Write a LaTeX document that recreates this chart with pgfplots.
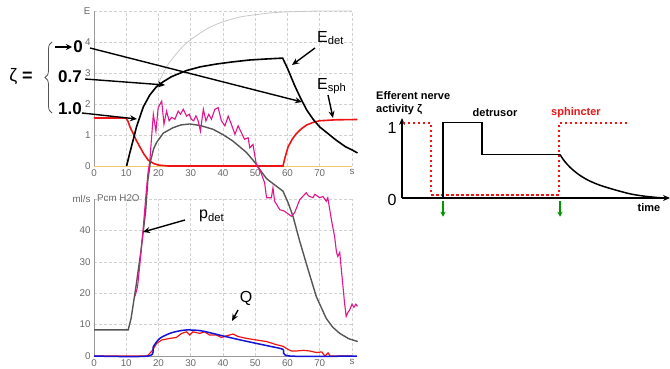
\documentclass[border=0pt]{standalone}
\usepackage{pgfplots}
\pgfplotsset{compat=1.18}
\usepackage{fontspec}
\setmainfont{Liberation Sans}
\usetikzlibrary{arrows.meta,decorations.pathreplacing}
\definecolor{mag}{RGB}{228,20,140}
\definecolor{rd}{RGB}{238,20,20}
\definecolor{bl}{RGB}{20,20,215}
\definecolor{dg}{RGB}{85,85,85}
\definecolor{lg}{RGB}{200,200,200}
\definecolor{org}{RGB}{240,200,110}
\definecolor{tk}{RGB}{105,105,105}
\definecolor{gr}{RGB}{0,150,0}
\pgfplotsset{
  panel/.style={scale only axis, width=258pt, xmin=0, xmax=80, axis lines=left,
    axis line style={-, draw=gray!80, line width=0.8pt},
    major tick length=0pt, grid=major, grid style={densely dashed, gray!35, line width=0.5pt},
    tick label style={font=\fontsize{9.8}{11}\selectfont, text=tk},
    /pgf/number format/assume math mode=true,
    xtick={0,10,...,80}, xticklabels={0,10,20,30,40,50,60,70,s},
    clip=false},
}
\begin{document}
\begin{tikzpicture}[x=1pt,y=1pt]
\useasboundingbox (0,0) rectangle (670,368);
% ---------------- top panel ----------------
\begin{axis}[panel, at={(94pt,202pt)}, anchor=south west, height=155pt, ymin=0, ymax=5,
  ytick={0,...,5}, yticklabels={0,1,2,3,4,E}]
\addplot[org, line width=0.8pt] coordinates {(0,0)(80,0)};
\addplot[lg, line width=0.8pt, smooth] coordinates {(17.3,2.3)(19.9,2.67)(22.5,3.2)(25.6,3.63)(29,4.0)(32.8,4.28)(36,4.48)(40,4.65)(45,4.8)(49.3,4.87)(55,4.94)(59.7,4.97)(70,5.0)(80,5.0)};
\addplot[rd, line width=1.6pt] coordinates {(0,1.55)(9.9,1.55)(10.5,1.45)(11.2,1.25)(12.1,1.06)(13,0.85)(14.2,0.62)(15.5,0.38)(16.8,0.19)(18.5,0.08)(20,0.03)(23,0)(58.6,0)(59.3,0.3)(60.2,0.62)(61.5,0.87)(62.8,1.05)(64.3,1.2)(65.9,1.32)(68,1.41)(70,1.46)(75,1.49)(81.7,1.5)};
\addplot[black, line width=1.6pt] coordinates {(10.1,0)(11.1,0.42)(13.2,1.27)(15.3,1.91)(17.3,2.29)(19.4,2.56)(21.5,2.72)(24,2.88)(28.7,3.08)(33,3.2)(38,3.29)(43.1,3.36)(48.3,3.42)(53,3.45)(58.5,3.48)(60,3.15)(62.2,2.6)(64,2.2)(66,1.8)(68,1.5)(70,1.26)(72.5,1.05)(75,0.84)(78,0.62)(80,0.52)(81.7,0.42)};
\end{axis}
% ---------------- bottom panel ----------------
\begin{axis}[panel, at={(94pt,12pt)}, anchor=south west, height=157pt, ymin=0, ymax=50,
  ytick={0,10,...,50}, yticklabels={0,10,20,30,40,ml/s}]
\addplot[dg, line width=1.4pt] coordinates {(0,8.3)(10.6,8.3)(11.5,12)(13,22)(14.5,33)(16,46)(16.7,56)(17.5,62)(18.5,66)(19.4,68)(21.5,71)(24.5,72.7)(27,73.6)(29.7,73.9)(33,73.4)(36.9,72.2)(40,70.5)(43,68.5)(45,66.8)(47.3,64.8)(50.4,61)(51.4,59.4)(53.5,56.5)(56,54.5)(58.6,52.5)(60.2,48.8)(61.7,44.5)(63.8,36.5)(66.4,27.5)(68.9,19)(72,12)(74,9.2)(76.2,7.2)(79,5.5)(81.8,4.6)};
\addplot[mag, line width=1.1pt] coordinates {(12.7,19)(13.5,22)(14.3,30)(15.2,40)(16,50)(16.7,58)(17.3,62.1)(18.4,77)(19.2,71.6)(19.9,79.1)(21,81.2)(21.7,73.8)(22.5,78)(23.3,74.9)(24.1,76)(25.1,75.4)(26.1,78)(26.8,77)(27.7,78.6)(28.7,76.4)(29.5,77)(30.2,75.4)(30.9,74.9)(31.6,76.5)(32.3,74.9)(33,71.6)(33.9,78.6)(34.7,74.9)(35.6,77)(36.4,75.4)(37.5,78.6)(38.5,79.1)(39.5,74.9)(40.6,73.3)(41.6,76.4)(42.6,73.8)(43.7,70.6)(44.7,73.3)(45.7,71.1)(46.7,69)(47.8,69.5)(48.3,66.3)(49.3,67.4)(49.8,64.2)(50.4,60.7)(51.4,59.4)(52.9,55.2)(53.5,50.4)(55,50.4)(55.5,53.6)(56,49.3)(57.6,46.6)(59.1,46.1)(61.2,44.5)(62.2,45.6)(63.8,49.8)(65.8,52)(66.5,51)(67.9,50.4)(68.5,51.5)(70,50.4)(71,50.8)(72,49.3)(72.5,50.4)(73.6,43.5)(74.6,38.1)(75.2,33)(75.6,31.7)(76.2,33)(76.7,27.5)(77.7,16.8)(78.2,12.6)(78.8,14)(79.3,14.7)(80,16.5)(80.6,15.5)(81.2,16.5)(81.7,15.8)};
\addplot[rd, line width=1.2pt] coordinates {(0,0)(16.5,0)(18,1.6)(19.4,4)(21,5.1)(23.5,5.6)(25.5,5.9)(27.2,7.2)(28.7,7.7)(29.7,6.7)(30.7,7.7)(32.8,7.2)(34.3,7.7)(35.8,6.7)(37.9,6.7)(39.5,5.9)(41,6.4)(43.1,7)(44.7,6.2)(47.3,5.6)(50.4,5.1)(53.5,4.6)(56.6,3.6)(58.6,3.1)(60.2,2.1)(61.2,1.6)(62.8,1.6)(64.9,1.8)(66.9,1.6)(69,1.1)(70.6,1.3)(71.6,0)(72.6,1)(73.2,0)(80,0)};
\addplot[bl, line width=1.5pt, smooth] coordinates {(0,0)(16.8,0)(18.4,3)(20.4,5.6)(23.5,7.2)(26,7.9)(28.7,8.3)(32.8,8.1)(36,7.4)(40,6.4)(45,5.2)(50.4,4)(55,3)(58.6,2.1)(60.7,0)(81.5,0)};
\node[anchor=west, font=\fontsize{9.8}{11}\selectfont, text=tk, inner sep=1pt] at (axis cs:0.6,50.3) {Pcm H2O};
\end{axis}
% ---------------- schematic ----------------
\begin{axis}[at={(402pt,170pt)}, anchor=south west, scale only axis, width=268pt, height=80pt,
  xmin=0, xmax=268, ymin=0, ymax=1.067, axis lines=left,
  axis line style={-{Stealth[length=7pt,width=6pt]}, line width=1.3pt, black},
  xtick=\empty, ytick=\empty, clip=false]
\addplot[rd, line width=2.2pt, dash pattern=on 2.2pt off 2.8pt] coordinates {(1,1)(29,1)(29,0.044)(157,0.044)(157,1)(225,1)};
\addplot[black, line width=1.5pt] coordinates {(41,0)(41,1.01)(80,1.01)(80,0.58)(158,0.58)};
\addplot[black, line width=1.5pt, smooth] coordinates {(158,0.58)(162,0.5)(168,0.41)(176,0.32)(185,0.245)(195,0.185)(205,0.14)(218,0.09)(230,0.05)(245,0.02)(261,0)};
\addplot[gr, line width=1.3pt, -{Stealth[length=5pt,width=5pt]}] coordinates {(41,-0.04)(41,-0.25)};
\addplot[gr, line width=1.3pt, -{Stealth[length=5pt,width=5pt]}] coordinates {(158,-0.04)(158,-0.25)};
\end{axis}
% ---------------- annotations ----------------
\begin{scope}[font=\fontsize{11}{12}\selectfont\bfseries]
\node[anchor=west, inner sep=0] at (376,272) {Efferent nerve};
\node[anchor=west, inner sep=0] at (376,258) {activity ζ};
\node[inner sep=0] at (495,255) {detrusor};
\node[inner sep=0, text=rd] at (576,255) {sphincter};
\node[inner sep=0] at (649,160) {time};
\end{scope}
\node[font=\fontsize{16}{16}\selectfont, inner sep=0] at (392,240) {1};
\node[font=\fontsize{16}{16}\selectfont, inner sep=0] at (392,168) {0};
% zeta annotations
\node[font=\fontsize{18}{18}\selectfont, inner sep=0] at (21,291) {ζ \textbf{=}};
\draw[dg, line width=0.8pt, decorate, decoration={brace, amplitude=7pt}] (52,255) -- (52,326);
\draw[line width=1.6pt, -{Stealth[length=6pt,width=6pt]}] (55,321) -- (72,321);
\begin{scope}[font=\fontsize{17}{17}\selectfont\bfseries]
\node[inner sep=0] at (78,321) {0};
\node[inner sep=0] at (70,291) {0.7};
\node[inner sep=0] at (70,259) {1.0};
\end{scope}
\begin{scope}[line width=1.4pt, -{Stealth[length=7pt,width=6pt]}]
\draw (90,320) -- (302,266);
\draw (85,289) -- (165,283);
\draw (82,255) -- (137,249);
\draw (315,320) -- (292,303);
\draw (328,273) -- (333,250);
\draw (185,148) -- (143,136);
\draw (238,58) -- (232,47);
\end{scope}
\begin{scope}[font=\fontsize{16}{16}\selectfont, inner sep=0]
\node[anchor=west] at (317,330) {E\textsubscript{det}};
\node[anchor=west] at (317,282) {E\textsubscript{sph}};
\node[anchor=west] at (199,152) {p\textsubscript{det}};
\node at (246,70) {Q};
\end{scope}
\end{tikzpicture}
\end{document}
